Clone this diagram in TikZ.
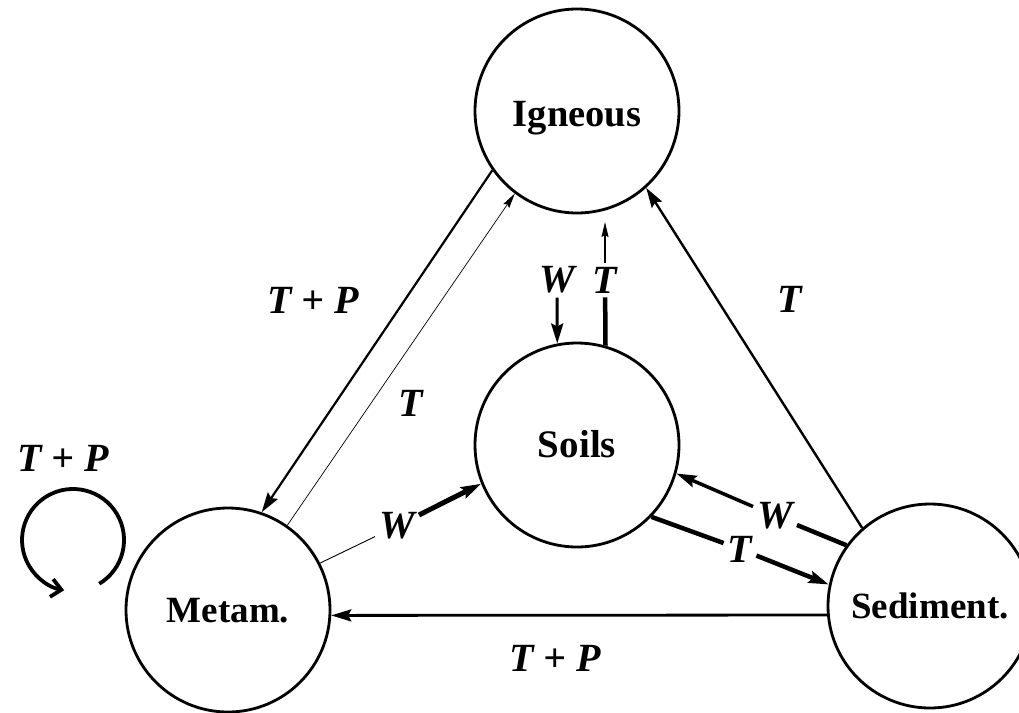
\documentclass[tikz,border=0pt]{standalone}
\usepackage{fontspec}
\setmainfont{Liberation Serif}
\usetikzlibrary{arrows.meta}
\begin{document}
\begin{tikzpicture}[x=1pt,y=-1pt,
  rock/.style={circle,draw,line width=2.8pt,minimum size=204pt,inner sep=0pt,
    font=\fontsize{37}{40}\selectfont\bfseries,text height=25pt,text depth=0pt},
  lab/.style={font=\fontsize{40}{44}\selectfont\bfseries\itshape,inner sep=4pt},
  bigtip/.style={-{Stealth[length=20pt,width=12pt,inset=3pt]}},
  smalltip/.style={-{Stealth[length=15pt,width=7pt,inset=2pt]}},
]
\useasboundingbox (0,0) rectangle (1019,712);
% rock circles
\node[rock] (ign) at (577,111) {\fontsize{38.5}{40}\selectfont\raisebox{-3pt}{Igneous}};
\node[rock] (soil) at (577,445) {\fontsize{39}{40}\selectfont Soils};
\node[rock] (met) at (228,610) {Metam.};
\node[rock] (sed) at (930,606) {Sediment.};
% labels
\node[lab] (tpA) at (313,300) {T + P};
\node[lab] (tA) at (411,403) {T};
\node[lab] (wM) at (397,526) {W};
\node[lab] (tpL) at (63,458) {T + P};
\node[lab] (tS) at (790,299) {T};
\node[lab] (wS) at (775,516) {W};
\node[lab] (tSS) at (740,549) {T};
\node[lab] (tpB) at (555,658) {T + P};
\node[lab] (wTop) at (557,280) {W};
\node[lab] (tTop) at (605,280) {T};
\coordinate (tTopEnd) at (605,222);
% connectors
\draw[line width=2.2pt,bigtip] (ign.215.7) -- (met.71.2);
\draw[line width=0.7pt,smalltip] (met.55.7) -- (ign.233.3);
\draw[line width=2.4pt,bigtip] (sed.131.4) -- (ign.312.7);
\draw[line width=2.8pt,bigtip] (sed.185) -- (met.357.2);
\draw[line width=0.9pt] (met.27.6) -- (wM);
\draw[line width=5pt,bigtip] (wM) -- (soil.202.8);
\draw[line width=4.5pt] (sed.144.6) -- (wS);
\draw[line width=3.5pt,bigtip] (wS) -- (soil.344.5);
\draw[line width=4.5pt] (soil.316.2) -- (tSS);
\draw[line width=4.5pt,bigtip] (tSS) -- (sed.168.4);
\draw[line width=3pt,bigtip] (wTop) -- (soil.101.3);
\draw[line width=4.5pt] (soil.74.4) -- (tTop);
\draw[line width=1.4pt,smalltip] (tTop) -- (tTopEnd);
% self loop on metamorphic
\draw[line width=3.8pt,-{Straight Barb[length=10pt,width=18pt]}]
  (99.3,583.7) arc[start angle=59,end angle=-260,radius=51];
\end{tikzpicture}
\end{document}
